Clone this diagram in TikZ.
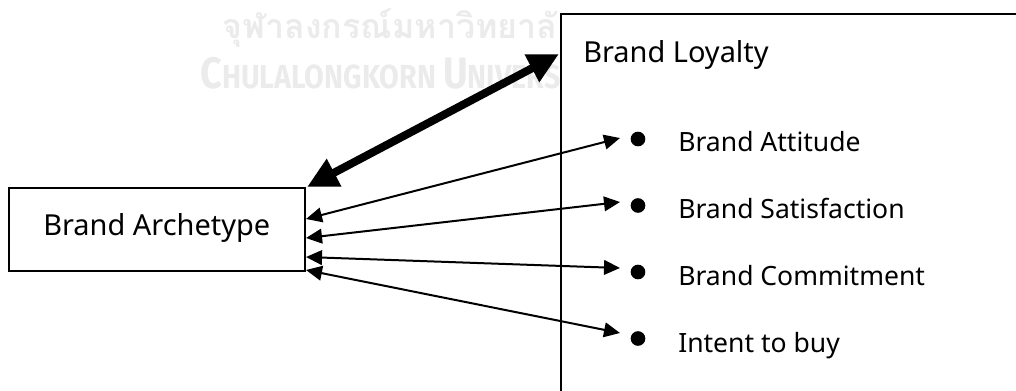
\documentclass[tikz,border=0pt]{standalone}
\usepackage{fontspec}
\setmainfont{Noto Sans}
\newfontfamily\thaifont[Script=Thai]{Loma}
\newfontfamily\wmfont{Fira Sans}
\usetikzlibrary{arrows.meta}
\begin{document}
\begin{tikzpicture}[x=0.75pt,y=-0.75pt,
  box/.style={draw,line width=1.1pt},
  titletext/.style={anchor=base west,inner sep=0,font=\fontsize{21.7}{26}\selectfont},
  itemtext/.style={anchor=base west,inner sep=0,font=\fontsize{19.9}{24}\selectfont},
  dot/.style={circle,fill,inner sep=0,minimum size=11pt},
  link/.style={line width=1.5pt,{Triangle[length=12pt,width=11pt]}-{Triangle[length=12pt,width=11pt]}},
  biglink/.style={line width=6pt,{Triangle[length=23pt,width=22pt]}-{Triangle[length=23pt,width=22pt]}},
  wm/.style={text=black!8,inner sep=0,anchor=base west}]
\useasboundingbox (0,0) rectangle (1016,390);
\clip (0,0) rectangle (1016,390);
% watermark
\node[wm,font=\thaifont\bfseries\fontsize{25.5}{30}\selectfont] (wmthai) at (222,38) {จุฬาลงกรณ์มหาวิทยาลัย};
\node[wm] (wmlatin) at (200,88) {\scalebox{0.86}[1]{\wmfont\bfseries\fontsize{33}{36}\selectfont C\fontsize{25}{28}\selectfont HULALONGKORN \fontsize{33}{36}\selectfont U\fontsize{25}{28}\selectfont NIVERSITY}};
% boxes
\draw[box,fill=white] (561,14) coordinate (loyTL) rectangle (1040,410) coordinate (loyBR);
\node[box,minimum width=222pt,minimum height=62pt,inner sep=0] (arch) at (157,229.5) {};
\node[titletext] (archtext) at (43,235) {Brand Archetype};
\node[titletext] (loytext) at (583,62) {Brand Loyalty};
% items
\node[dot] (b1) at (638,139) {};
\node[dot] (b2) at (638,205.5) {};
\node[dot] (b3) at (638,272) {};
\node[dot] (b4) at (638,338.5) {};
\node[itemtext] (i1) at (678,151) {Brand Attitude};
\node[itemtext] (i2) at (678,218) {Brand Satisfaction};
\node[itemtext] (i3) at (678,285) {Brand Commitment};
\node[itemtext] (i4) at (678,352) {Intent to buy};
% connector ends
\coordinate (aL0) at (307,187);
\coordinate (lL0) at (559,54);
\coordinate (aL1) at (306,219);
\coordinate (aL2) at (306,238);
\coordinate (aL3) at (306,257);
\coordinate (aL4) at (306,270);
\coordinate (r1) at (620,138);
\coordinate (r2) at (620,202);
\coordinate (r3) at (620,268);
\coordinate (r4) at (620,333);
\draw[biglink] (aL0) -- (lL0);
\draw[link] (aL1) -- (r1);
\draw[link] (aL2) -- (r2);
\draw[link] (aL3) -- (r3);
\draw[link] (aL4) -- (r4);
\end{tikzpicture}
\end{document}
